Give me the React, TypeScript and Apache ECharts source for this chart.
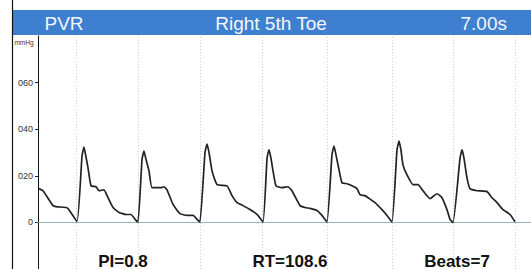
import React, { useEffect, useRef } from "react";
import * as echarts from "echarts";

// Waveform samples (seconds, mmHg)
const timeS: number[] = [
  0.014, 0.071, 0.213, 0.256, 0.398, 0.426, 0.554,
  0.625, 0.653, 0.682, 0.710, 0.753, 0.824, 0.866, 0.937, 0.994, 1.065, 1.150, 1.249, 1.320, 1.391, 1.420,
  1.477, 1.505, 1.534, 1.576, 1.619, 1.746, 1.789, 1.832, 1.917, 2.016, 2.116, 2.201, 2.272, 2.300,
  2.371, 2.400, 2.428, 2.471, 2.542, 2.684, 2.755, 2.826, 2.911, 3.010, 3.110, 3.195,
  3.252, 3.280, 3.308, 3.337, 3.379, 3.464, 3.550, 3.606, 3.720, 3.791, 3.862, 3.961, 4.032, 4.103,
  4.174, 4.203, 4.231, 4.274, 4.316, 4.387, 4.458, 4.529, 4.572, 4.643, 4.686, 4.785, 4.884, 4.955, 5.026,
  5.097, 5.126, 5.154, 5.182, 5.239, 5.324, 5.395, 5.466, 5.566, 5.665, 5.736, 5.807, 5.850, 5.893,
  5.992, 6.021, 6.049, 6.091, 6.134, 6.233, 6.375, 6.446, 6.517, 6.602, 6.702, 6.773,
];
const pressure: number[] = [
  14.5, 13.6, 7.2, 6.8, 6.4, 6.0, 0.4,
  28.5, 32.3, 28.0, 23.4, 15.7, 15.3, 13.6, 14.0, 10.6, 6.4, 4.3, 3.4, 3.4, 0.9, 0.2,
  27.0, 30.6, 27.0, 22.1, 14.9, 14.9, 15.3, 14.0, 7.7, 3.8, 3.0, 3.0, 0.9, 0.2,
  30.0, 33.6, 30.0, 22.1, 16.2, 15.7, 11.5, 8.5, 7.2, 5.5, 3.4, 0.2,
  27.5, 31.1, 27.5, 22.1, 15.7, 14.9, 15.3, 13.6, 7.2, 6.4, 6.0, 5.1, 3.0, 0.2,
  29.0, 32.8, 29.0, 22.6, 17.0, 16.6, 15.7, 14.5, 11.9, 11.5, 10.6, 8.5, 5.5, 3.0, 0.2,
  31.0, 34.9, 31.0, 24.7, 20.4, 16.2, 16.2, 13.6, 10.2, 12.3, 10.6, 5.5, 1.3, 0.0,
  27.5, 31.1, 27.5, 19.1, 14.5, 13.6, 13.2, 10.6, 8.5, 5.5, 3.4, 0.3,
];
// Beat onset markers (seconds)
const beatTimes: number[] = [0.554, 1.42, 2.3, 3.195, 4.103, 5.026, 5.893, 6.773];
const yTicks: number[] = [0, 20, 40, 60];
const headerLeft = "PVR";
const headerCenter = "Right 5th Toe";
const headerRight = "7.00s";
const unitLabel = "mmHg";
const stats: string[] = ["PI=0.8", "RT=108.6", "Beats=7"];

const FONT = "'Liberation Sans', Arial, sans-serif";

export default function App() {
  const ref = useRef<HTMLDivElement>(null);
  useEffect(() => {
    if (!ref.current) return;
    const chart = echarts.init(ref.current, null, { renderer: "svg" });
    const data = timeS.map((t, i) => [t, pressure[i]]);
    chart.setOption({
      animation: false,
      backgroundColor: "#ffffff",
      grid: { left: 38, right: 0, top: 36, height: 236 },
      xAxis: {
        type: "value",
        min: 0,
        max: 7,
        show: false,
      },
      yAxis: {
        type: "value",
        min: -20,
        max: 80,
        interval: 20,
        splitLine: { show: false },
        axisLine: { show: true, lineStyle: { color: "#111", width: 1 } },
        axisTick: { show: true, length: 3, customValues: yTicks, lineStyle: { color: "#222" } },
        axisLabel: {
          customValues: yTicks,
          margin: 5,
          fontSize: 9,
          fontFamily: FONT,
          color: "#333",
          formatter: (v: number) => (v === 0 ? "0" : "0" + v),
        },
      },
      series: [
        {
          type: "line",
          data,
          symbol: "none",
          smooth: 0.15,
          lineStyle: { color: "#222222", width: 1.7 },
          z: 5,
          markLine: {
            silent: true,
            symbol: "none",
            label: { show: false },
            data: [
              ...beatTimes.map((t) => ({
                xAxis: t,
                lineStyle: { color: "#cdcdcd", type: [1, 2], width: 1 },
              })),
              { yAxis: 0, lineStyle: { color: "#97b3bd", type: "solid", width: 1 } },
            ],
          },
        },
      ],
      graphic: [
        { type: "rect", shape: { x: 12, y: 10, width: 519, height: 25 }, style: { fill: "#3f7fcf" }, z: 10 },
        { type: "line", shape: { x1: 12.5, y1: 0, x2: 12.5, y2: 269 }, style: { stroke: "#111", lineWidth: 1.2 }, z: 11 },
        { type: "text", x: 64, y: 23, style: { text: headerLeft, fill: "#f2f6fc", font: `19px ${FONT}`, textAlign: "center", textVerticalAlign: "middle" }, z: 12 },
        { type: "text", x: 271, y: 23, style: { text: headerCenter, fill: "#f2f6fc", font: `19px ${FONT}`, textAlign: "center", textVerticalAlign: "middle" }, z: 12 },
        { type: "text", x: 507, y: 23, style: { text: headerRight, fill: "#f2f6fc", font: `19px ${FONT}`, textAlign: "right", textVerticalAlign: "middle" }, z: 12 },
        { type: "text", x: 24, y: 42, style: { text: unitLabel, fill: "#333", font: `6.5px ${FONT}`, textAlign: "center", textVerticalAlign: "middle" }, z: 12 },
        { type: "text", x: 123, y: 261, style: { text: stats[0], fill: "#111", font: `bold 17px ${FONT}`, textAlign: "center", textVerticalAlign: "middle" }, z: 12 },
        { type: "text", x: 290, y: 261, style: { text: stats[1], fill: "#111", font: `bold 17px ${FONT}`, textAlign: "center", textVerticalAlign: "middle" }, z: 12 },
        { type: "text", x: 457, y: 261, style: { text: stats[2], fill: "#111", font: `bold 17px ${FONT}`, textAlign: "center", textVerticalAlign: "middle" }, z: 12 },
      ],
    });
    return () => chart.dispose();
  }, []);
  return (
    <div
      ref={ref}
      style={{ position: "fixed", left: 0, top: 0, width: 531, height: 269, background: "#fff" }}
    />
  );
}
